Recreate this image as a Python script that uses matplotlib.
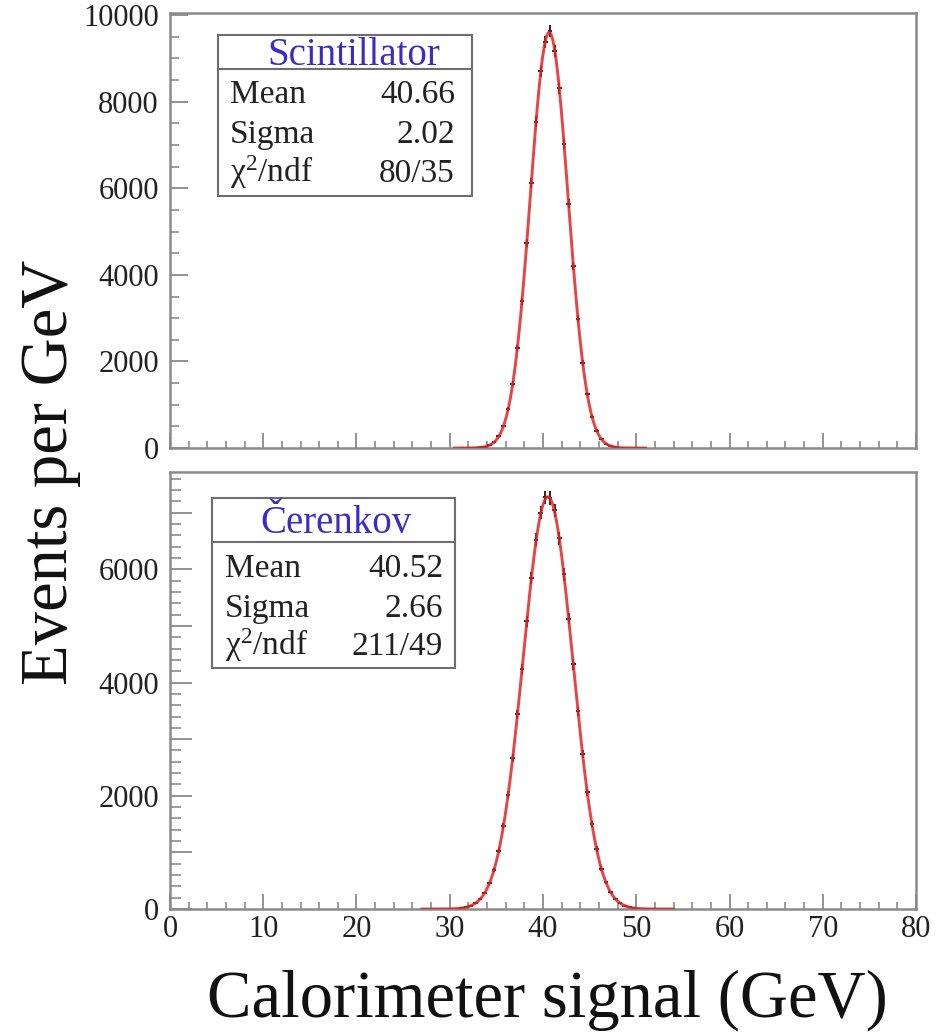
import numpy as np
import matplotlib
matplotlib.use("Agg")
import matplotlib.pyplot as plt
from matplotlib.patches import Rectangle
from matplotlib.ticker import MultipleLocator, FuncFormatter

plt.rcParams['font.family'] = ['Liberation Serif', 'DejaVu Serif']
plt.rcParams['mathtext.fontset'] = 'custom'
plt.rcParams['mathtext.rm'] = 'Liberation Serif'
plt.rcParams['mathtext.it'] = 'Liberation Serif'

# histogram bin centres (0.5 GeV bins) and contents, events per GeV
scint_x = np.arange(31.25, 51.0, 0.5)
scint_y = [0, 1, 2, 6, 12, 30, 65, 140, 270, 510, 900, 1490, 2320, 3390, 4730,
           6120, 7540, 8700, 9380, 9640, 9180, 8310, 7020, 5640, 4200, 2990,
           1960, 1240, 720, 400, 210, 100, 45, 20, 8, 3, 1, 0, 0, 0]

cer_x = np.arange(27.25, 54.0, 0.5)
cer_y = [0, 0, 0, 0, 1, 2, 4, 9, 17, 32, 58, 100, 176, 284, 455, 690, 1030,
         1460, 2020, 2670, 3440, 4240, 5080, 5840, 6520, 7000, 7270, 7260,
         7040, 6550, 5910, 5130, 4320, 3490, 2740, 2060, 1500, 1060, 715, 470,
         298, 180, 108, 60, 33, 18, 9, 4, 2, 1, 0, 0, 0, 0]

# gaussian fit results
scint_fit = dict(title="Scintillator", mean=40.66, sigma=2.02, amp=9600,
                 chi2="80/35", lo=30.5, hi=51.0)
cer_fit = dict(title="Čerenkov", mean=40.52, sigma=2.66, amp=7280,
               chi2="211/49", lo=27.0, hi=54.0)

frame_col = "#8a8a8a"
text_col = "#222222"


def draw_panel(ax, x, y, fit, ymax, major, minor, tick_len, box):
    y = np.array(y, dtype=float)
    err = np.sqrt(y * 0.5) / 0.5
    ax.errorbar(x, y, yerr=err, xerr=0.25, fmt='none', ecolor="#3a2020",
                elinewidth=1.4, capsize=0, zorder=2)
    xf = np.linspace(fit["lo"], fit["hi"], 400)
    yf = fit["amp"] * np.exp(-0.5 * ((xf - fit["mean"]) / fit["sigma"]) ** 2)
    ax.plot(xf, yf, color="#e02424", lw=2.1, zorder=3, alpha=0.85)

    ax.set_xlim(0, 80)
    ax.set_ylim(0, ymax)
    ax.xaxis.set_major_locator(MultipleLocator(10))
    ax.xaxis.set_minor_locator(MultipleLocator(2))
    ax.yaxis.set_major_locator(MultipleLocator(major))
    ax.yaxis.set_minor_locator(MultipleLocator(minor))
    ax.yaxis.set_major_formatter(FuncFormatter(
        lambda v, p: "%d" % v if int(round(v)) % 2000 == 0 else ""))
    ax.tick_params(axis='y', which='major', direction='in', length=tick_len[0],
                   width=1.3, color=frame_col, labelsize=22, pad=8,
                   labelcolor=text_col)
    ax.tick_params(axis='y', which='minor', direction='in', length=tick_len[1],
                   width=1.2, color=frame_col)
    ax.tick_params(axis='x', which='major', direction='in', length=11,
                   width=1.3, color=frame_col, labelsize=22, pad=4,
                   labelcolor=text_col)
    ax.tick_params(axis='x', which='minor', direction='in', length=5,
                   width=1.2, color=frame_col)
    for s in ax.spines.values():
        s.set_color(frame_col)
        s.set_linewidth(1.8)

    # stats box
    x0, x1, y0, y1, ydiv, tx, rows, lx, rx = box
    ax.add_patch(Rectangle((x0, y0), x1 - x0, y1 - y0, transform=ax.transAxes,
                           fill=True, facecolor="white", edgecolor="#6e6e6e",
                           lw=1.5, zorder=5))
    ax.plot([x0, x1], [ydiv, ydiv], transform=ax.transAxes, color="#6e6e6e",
            lw=1.5, zorder=6)
    ax.text(tx, rows[0], fit["title"], transform=ax.transAxes, ha='center',
            va='baseline', fontsize=28, color="#3b2dc4", zorder=7)
    names = ["Mean", "Sigma", "χ$^{2}$/ndf"]
    vals = ["%.2f" % fit["mean"], "%.2f" % fit["sigma"], fit["chi2"]]
    for yy, n, v in zip(rows[1:], names, vals):
        ax.text(lx, yy, n, transform=ax.transAxes, ha='left', va='baseline',
                fontsize=24, color=text_col, zorder=7)
        ax.text(rx, yy, v, transform=ax.transAxes, ha='right', va='baseline',
                fontsize=24, color=text_col, zorder=7)


fig = plt.figure(figsize=(9.47, 10.33), dpi=100)
ax1 = fig.add_axes([0.1795, 0.5663, 0.7878, 0.4211])
ax2 = fig.add_axes([0.1795, 0.1200, 0.7878, 0.4230])

draw_panel(ax1, scint_x, scint_y, scint_fit, 10050, 2000, 500, (13, 6.5),
           (0.0643, 0.4048, 0.5793, 0.9494, 0.8713, 0.2466,
            (0.8805, 0.7931, 0.7011, 0.6115), 0.0804, 0.382))
draw_panel(ax2, cer_x, cer_y, cer_fit, 7717, 1000, 200, (16, 8),
           (0.0563, 0.382, 0.5515, 0.9405, 0.8398, 0.2225,
            (0.8604, 0.7597, 0.6682, 0.5812), 0.0737, 0.366))
ax1.tick_params(axis='x', labelbottom=False)

fig.text(0.053, 0.543, "Events per GeV", rotation=90, ha='center',
         va='center', fontsize=48, color="#111111")
fig.text(0.578, 0.0155, "Calorimeter signal (GeV)", ha='center',
         va='baseline', fontsize=48, color="#111111")

fig.savefig("out.png", dpi=100)
